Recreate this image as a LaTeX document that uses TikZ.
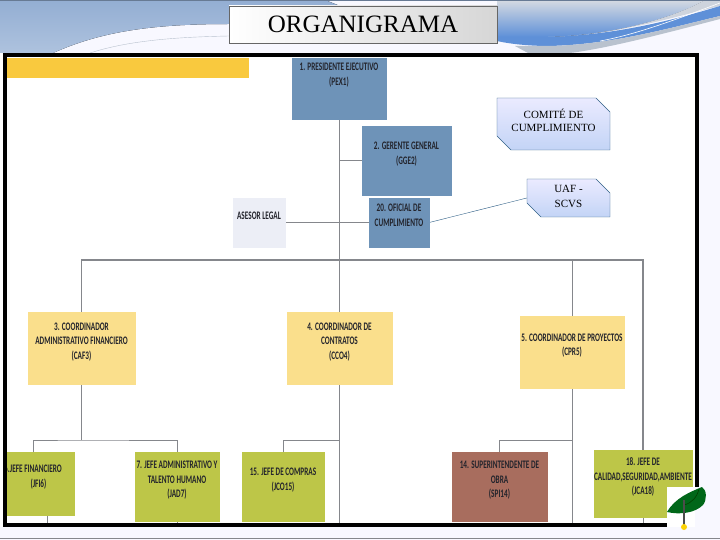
\documentclass[tikz,border=0pt]{standalone}
\usepackage{fontspec}
\setmainfont{Liberation Serif}
\newfontfamily\boxfont[FakeStretch=0.63]{Carlito}
\usetikzlibrary{positioning,shapes.misc}
\definecolor{slideblue}{HTML}{93AED3}
\definecolor{slidedeep}{HTML}{5E90D8}
\definecolor{slidegrey}{HTML}{B9C2CE}
\definecolor{linegrey}{HTML}{85878C}
\definecolor{bluebox}{HTML}{6E93B8}
\definecolor{goldbox}{HTML}{FADF8C}
\definecolor{greenbox}{HTML}{BDC648}
\definecolor{brownbox}{HTML}{A86D5E}
\definecolor{palebox}{HTML}{ECEEF6}
\definecolor{barcolor}{HTML}{F9C93E}
\definecolor{boxtext}{HTML}{23242C}
\definecolor{noteblue}{HTML}{C3D4F6}
\definecolor{noteedge}{HTML}{2F5F86}
\pgfdeclarelayer{slide}
\pgfdeclarelayer{lines}
\pgfsetlayers{slide,lines,main}
\tikzset{
  orgbox/.style={draw=#1,fill=#1,line width=0.5pt,inner sep=0pt,align=center,
    text=boxtext,font=\boxfont\bfseries\fontsize{11.5}{14.5}\selectfont},
  notebox/.style={chamfered rectangle,chamfered rectangle corners={north east,south west},
    chamfered rectangle sep=7pt,draw=noteedge,shading=axis,top color=white!92!blue,bottom color=noteblue,
    inner sep=0pt,align=center,font=\fontsize{11}{13}\selectfont},
  orgline/.style={draw=linegrey,line width=1pt}
}
\begin{document}
\begin{tikzpicture}[x=1pt,y=-1pt]
  \useasboundingbox (0,0) rectangle (720,540);
  % slide background
  \begin{pgfonlayer}{slide}
  \fill[white!93!blue!40] (0,0) rectangle (720,540);
  \fill[white] (0,53) rectangle (699,527);
  \fill[top color=slideblue,bottom color=slideblue!75!white] (0,0) -- (325,0) -- (340,6) -- (229,24)
    .. controls (150,24) and (100,32) .. (53,53) -- (0,53) -- cycle;
  \fill[top color=slidegrey!60!white,bottom color=slidedeep] (497,0) -- (705,0)
    .. controls (680,15) and (620,35) .. (548,37) -- (497,37) -- cycle;
  \fill[slidegrey!70!white] (705,0) -- (720,0) -- (720,6)
    .. controls (680,15) and (620,35) .. (548,37) .. controls (620,35) and (680,15) .. (705,0) -- cycle;
  \fill[slidedeep] (497,37) -- (548,37) .. controls (620,35) and (680,18) .. (720,6) -- (720,16)
    .. controls (670,28) and (610,45) .. (548,46) .. controls (530,46) and (510,44) .. (497,41) -- cycle;
  \fill[slidegrey] (515,46) -- (548,46) .. controls (610,45) and (670,28) .. (720,16) -- (720,19)
    .. controls (670,32) and (610,48) .. (570,53) -- (528,53) -- cycle;
  \draw[white,line width=0.6pt] (600,41) .. controls (640,34) and (690,14) .. (720,3);
  \draw[slidegrey] (90,53) .. controls (130,40) and (180,37) .. (229,36);
  \draw[linegrey,line width=1pt] (0,538.5) -- (720,538.5);
  \draw[slideblue!70!black] (0,0) -- (720,0);
  \end{pgfonlayer}

  \node[draw=black!60,left color=white,right color=black!16,inner sep=0pt,
    minimum width=268pt,minimum height=37pt,font=\fontsize{25}{29}\selectfont] (title) at (363,24.5) {ORGANIGRAMA};

  \fill[barcolor] (7,58) rectangle (249,78);

  % boxes
  \node[orgbox=bluebox,minimum width=94pt,minimum height=61pt] (pex) at (339,88.5) {1. PRESIDENTE EJECUTIVO\\(PEX1)\\~\\~};
  \node[orgbox=bluebox,minimum width=89pt,minimum height=69pt] (gge) at (406.5,160.5) {2. GERENTE GENERAL\\(GGE2)\\~};
  \node[orgbox=bluebox,minimum width=60pt,minimum height=49pt] (oficial) at (399,222.5) {20. OFICIAL DE\\CUMPLIMIENTO\\~};
  \node[orgbox=palebox,minimum width=52pt,minimum height=49pt] (asesor) at (259,222.5) {ASESOR LEGAL\\~};
  \node[orgbox=goldbox,minimum width=107pt,minimum height=72pt] (caf) at (81.5,348) {3. COORDINADOR\\ADMINISTRATIVO FINANCIERO\\(CAF3)\\~};
  \node[orgbox=goldbox,minimum width=105pt,minimum height=72pt] (cco) at (339.5,348) {4. COORDINADOR DE\\CONTRATOS\\(CCO4)\\~};
  \node[orgbox=goldbox,minimum width=104pt,minimum height=72pt] (cpr) at (572,352) {5. COORDINADOR DE PROYECTOS\\(CPR5)\\~};
  \node[orgbox=greenbox,minimum width=71pt,minimum height=63pt] (jfi) at (38.5,483.5) {6.JEFE FINANCIERO\hspace*{11pt}\\(JFI6)\hspace*{11pt}\\~};
  \node[orgbox=greenbox,minimum width=84pt,minimum height=69pt] (jad) at (177,486.5) {7. JEFE ADMINISTRATIVO Y\\TALENTO HUMANO\\(JAD7)\\~};
  \node[orgbox=greenbox,minimum width=82pt,minimum height=69pt] (jco) at (283,486.5) {15. JEFE DE COMPRAS\\(JCO15)\\~};
  \node[orgbox=brownbox,minimum width=95pt,minimum height=69pt] (spi) at (499.5,486.5) {14. SUPERINTENDENTE DE\\OBRA\\(SPI14)\\~};
  \node[orgbox=greenbox,minimum width=98pt,minimum height=67pt] (jca) at (643,483.5) {18. JEFE DE\\CALIDAD,SEGURIDAD,AMBIENTE\\(JCA18)\\~};

  \node[notebox,minimum width=113pt,minimum height=52pt] (comite) at (553.5,124) {COMIT\'E DE\\CUMPLIMIENTO\\[-5pt]~};
  \node[notebox,minimum width=83pt,minimum height=38pt] (uaf) at (568.5,198) {~\\[-8pt]UAF -\\[2pt]SCVS};

  % free ends of the tree
  \coordinate (trunkend) at (339,525);
  \coordinate (rowmain) at (339,260);
  \coordinate (rowright) at (643,260);
  \coordinate (cafsplit) at (81.5,440);
  \coordinate (cprsplit) at (572,440);
  \coordinate (trunksplit) at (339,440);

  % connectors
  \begin{pgfonlayer}{lines}
  \draw[orgline] (pex.south) -- (trunkend);
  \draw[orgline] (gge.west) -- (gge.west -| pex.south);
  \draw[orgline] (asesor.east) -- (oficial.west);
  \draw[orgline,line width=1.4pt] (caf.north) |- (rowmain) -- (rowright) -- (jca.north);
  \draw[orgline] (cpr.north) -- (cpr.north |- rowmain);
  \draw[orgline] (caf.south) -- (cafsplit);
  \draw[orgline] (jfi.north -| 33,0) |- (cafsplit) -| (jad.north);
  \draw[orgline] (jco.north) |- (trunksplit);
  \draw[orgline] (cpr.south) -- (cpr.south |- trunkend);
  \draw[orgline] (spi.north) |- (cprsplit);
  \draw[orgline] (jca.south) -- (jca.south |- trunkend);
  \draw[orgline] (jad.south) -- (jad.south |- trunkend);
  \draw[orgline] (jfi.south -| 47,0) -- (47,525);
  \draw[noteedge] (oficial.east) -- (uaf.west);
  \end{pgfonlayer}

  % frame and logo
  \draw[black,line width=4.5pt] (5.2,55.2) rectangle (696.8,525);
  \fill[white!93!blue!40] (667,527.3) rectangle (699.2,537) (694.6,487) rectangle (700,527.3);
  \fill[white] (667,487) rectangle (694.5,527.3);
  \fill[black] (694.6,480) rectangle (699,487);
  \fill[green!45!black!90!blue] (667,512) .. controls (675,498) and (690,492) .. (702,487)
    .. controls (707,490) and (707,500) .. (703,505) .. controls (695,513) and (680,515) .. (667,512) -- cycle;
  \draw[green!25!black,line width=0.6pt] (684,505) .. controls (692,503) and (697,497) .. (699,489);
  \draw[black!70,line width=1.2pt] (684,500) -- (684,527);
  \fill[yellow!70!orange] (684,527) circle (3pt);
\end{tikzpicture}
\end{document}
